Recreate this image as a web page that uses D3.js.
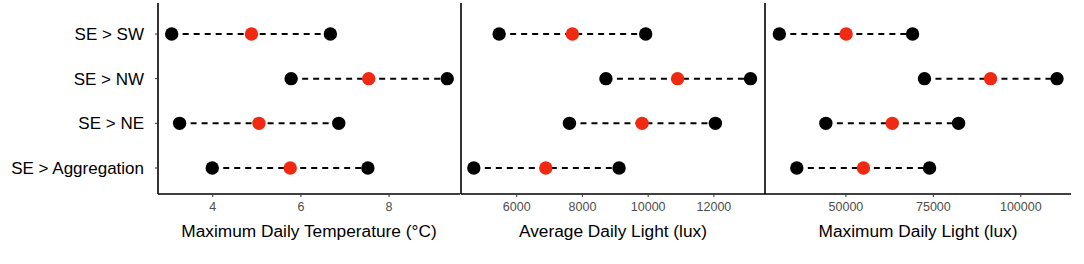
<!DOCTYPE html>
<html>

<head>
    <meta charset="utf-8">
    <script src="https://d3js.org/d3.v7.min.js"></script>
    <style>
        body { margin: 0; background: #fff; }
        text { font-family: "Liberation Sans", Arial, sans-serif; }
    </style>
</head>

<body>
    <div id="my_dataviz"></div>

    <script>
        // categories (top to bottom)
        const categories = ["SE > SW", "SE > NW", "SE > NE", "SE > Aggregation"];

        // panel 1: maximum daily temperature
        const tempLow = [3.08, 5.79, 3.26, 4.0];
        const tempMid = [4.89, 7.55, 5.06, 5.77];
        const tempHigh = [6.68, 9.33, 6.87, 7.53];
        const tempTicks = [4, 6, 8];

        // panel 2: average daily light
        const avgLow = [5480, 8730, 7620, 4710];
        const avgMid = [7710, 10910, 9830, 6900];
        const avgHigh = [9940, 13130, 12060, 9130];
        const avgTicks = [6000, 8000, 10000, 12000];

        // panel 3: maximum daily light
        const maxLow = [31100, 72600, 44400, 36100];
        const maxMid = [50200, 91500, 63400, 55150];
        const maxHigh = [69200, 110500, 82350, 74050];
        const maxTicks = [50000, 75000, 100000];

        const panels = [
            { title: "Maximum Daily Temperature (°C)", low: tempLow, mid: tempMid, high: tempHigh, ticks: tempTicks, domain: [2.77, 9.62], x0: 158, x1: 460 },
            { title: "Average Daily Light (lux)", low: avgLow, mid: avgMid, high: avgHigh, ticks: avgTicks, domain: [4320, 13570], x0: 461, x1: 765 },
            { title: "Maximum Daily Light (lux)", low: maxLow, mid: maxMid, high: maxHigh, ticks: maxTicks, domain: [27000, 114500], x0: 765, x1: 1071 }
        ];

        const W = 1084, H = 264, plotTop = 3, plotBottom = 194;

        const svg = d3.select("#my_dataviz")
            .append("svg")
            .attr("width", W)
            .attr("height", H);

        // Y scale shared by all panels
        const y = d3.scalePoint()
            .domain(categories)
            .range([34, 168]);

        // category labels
        svg.append("g")
            .selectAll("text")
            .data(categories)
            .join("text")
            .attr("x", 144)
            .attr("y", d => y(d))
            .attr("dy", "0.36em")
            .attr("text-anchor", "end")
            .attr("font-size", 17)
            .attr("fill", "#000")
            .text(d => d);

        panels.forEach(function (p, pi) {
            const x = d3.scaleLinear().domain(p.domain).range([p.x0, p.x1]);
            const g = svg.append("g");

            // axes
            g.append("line")
                .attr("x1", p.x0).attr("x2", p.x0)
                .attr("y1", plotTop).attr("y2", plotBottom)
                .attr("stroke", "#000").attr("stroke-width", 1.6);
            g.append("line")
                .attr("x1", p.x0).attr("x2", p.x1)
                .attr("y1", plotBottom).attr("y2", plotBottom)
                .attr("stroke", "#000").attr("stroke-width", 1.6);

            // small y ticks on first panel axis
            if (pi === 0) {
                g.selectAll(".yt")
                    .data(categories)
                    .join("line")
                    .attr("x1", p.x0 - 3).attr("x2", p.x0)
                    .attr("y1", d => y(d)).attr("y2", d => y(d))
                    .attr("stroke", "#333").attr("stroke-width", 1);
            }

            const xAxis = g.append("g")
                .attr("transform", `translate(0, ${plotBottom})`)
                .call(d3.axisBottom(x).tickValues(p.ticks).tickSize(3).tickPadding(5).tickFormat(d3.format("d")));
            xAxis.select(".domain").remove();
            xAxis.selectAll("line").attr("stroke", "#333");
            xAxis.selectAll("text")
                .attr("font-size", 12.5)
                .attr("fill", "#4d4d4d")
                .style("font-family", "'Liberation Sans', Arial, sans-serif");

            // axis title
            g.append("text")
                .attr("x", (p.x0 + p.x1) / 2)
                .attr("y", 237)
                .attr("text-anchor", "middle")
                .attr("font-size", 17.3)
                .attr("fill", "#000")
                .text(p.title);

            // dashed ranges
            g.selectAll(".rng")
                .data(categories)
                .join("line")
                .attr("x1", (d, i) => x(p.low[i]))
                .attr("x2", (d, i) => x(p.high[i]))
                .attr("y1", d => y(d)).attr("y2", d => y(d))
                .attr("stroke", "#000")
                .attr("stroke-width", 2)
                .attr("stroke-dasharray", "6,5");

            // black end points
            [p.low, p.high].forEach(function (vals) {
                g.selectAll(null)
                    .data(categories)
                    .join("circle")
                    .attr("cx", (d, i) => x(vals[i]))
                    .attr("cy", d => y(d))
                    .attr("r", 6.7)
                    .attr("fill", "#000");
            });

            // red midpoints
            g.selectAll(null)
                .data(categories)
                .join("circle")
                .attr("cx", (d, i) => x(p.mid[i]))
                .attr("cy", d => y(d))
                .attr("r", 6.7)
                .attr("fill", "#f02a12");
        });
    </script>

</body>

</html>
